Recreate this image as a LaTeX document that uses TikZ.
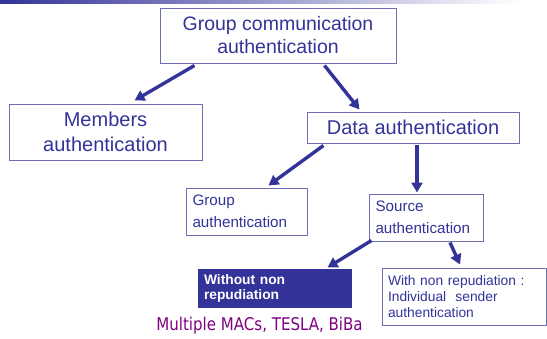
\documentclass[tikz,border=0pt]{standalone}
\usepackage{fontspec}
\setmainfont{Liberation Sans}
\newfontfamily\macsfont[FakeStretch=0.86]{DejaVu Sans}
\usetikzlibrary{arrows.meta,calc}
\definecolor{dblue}{RGB}{51,51,153}
\definecolor{bordc}{RGB}{110,110,180}
\definecolor{macpurple}{RGB}{128,0,128}
\begin{document}
\begin{tikzpicture}[x=1pt,y=-1pt,
  box/.style={draw=bordc,line width=1pt,rectangle,inner sep=0pt,text=dblue,align=center},
  lbox/.style={draw=bordc,line width=1pt,rectangle,inner xsep=6.5pt,inner ysep=0pt,text=dblue,align=left},
  arr/.style={draw=dblue,line width=3.4pt,-{Triangle[length=10pt,width=11pt]}}
]
\useasboundingbox (0,0) rectangle (547,338);
\shade[left color=dblue,right color=white] (0,0) rectangle (520,3.5);
\fill[white] (520,0) rectangle (547,3.5);

\node[box,minimum width=236pt,minimum height=55pt,font=\fontsize{19.5}{23}\selectfont] (top) at (278,35.5) {Group communication\\authentication};
\node[box,minimum width=193pt,minimum height=56pt,font=\fontsize{20}{25}\selectfont] (mem) at (105.5,132) {Members\\authentication};
\node[box,minimum width=212pt,minimum height=31pt,font=\fontsize{20}{24}\selectfont] (data) at (413,127.5) {Data authentication};
\node[lbox,text width=108pt,minimum height=47pt,font=\fontsize{15.2}{22}\selectfont] (grp) at (246.5,211.5) {Group\\authentication};
\node[lbox,text width=101pt,minimum height=47pt,font=\fontsize{15.2}{22}\selectfont] (src) at (426,217.5) {Source\\authentication};
\node[rectangle,fill=dblue,draw=dblue,line width=1pt,inner xsep=6pt,inner ysep=0pt,text width=141pt,minimum height=38pt,align=left,text=white,font=\fontsize{13.8}{15}\selectfont\bfseries] (wo) at (274.5,288) {Without non\\repudiation};
\node[lbox,inner xsep=6pt,text width=152pt,minimum height=57pt,font=\fontsize{13.8}{16}\selectfont] (with) at (464,296.5) {With non repudiation :\\Individual\ \ sender\\authentication};
\node[text=macpurple,inner sep=0pt,font=\macsfont\fontsize{17.5}{19}\selectfont] (macs) at (259.5,326) {Multiple MACs, TESLA, BiBa};

\draw[arr] ([xshift=35pt,yshift=-2pt]top.south west) -- ([xshift=126pt,yshift=3pt]mem.north west);
\draw[arr] ([xshift=165pt,yshift=-2pt]top.south west) -- ([xshift=53pt,yshift=2pt]data.north west);
\draw[arr] ([xshift=17pt,yshift=-2pt]data.south west) -- ([xshift=-39pt,yshift=2pt]grp.north east);
\draw[arr] ([xshift=4pt,yshift=-1pt]data.south) -- ([xshift=-9pt,yshift=1pt]src.north);
\draw[arr] ([xshift=3pt,yshift=1pt]src.south west) -- ([xshift=-24pt,yshift=1pt]wo.north east);
\draw[arr] ([xshift=24pt,yshift=-1pt]src.south) -- ([xshift=-4pt,yshift=3pt]with.north);
\end{tikzpicture}
\end{document}
